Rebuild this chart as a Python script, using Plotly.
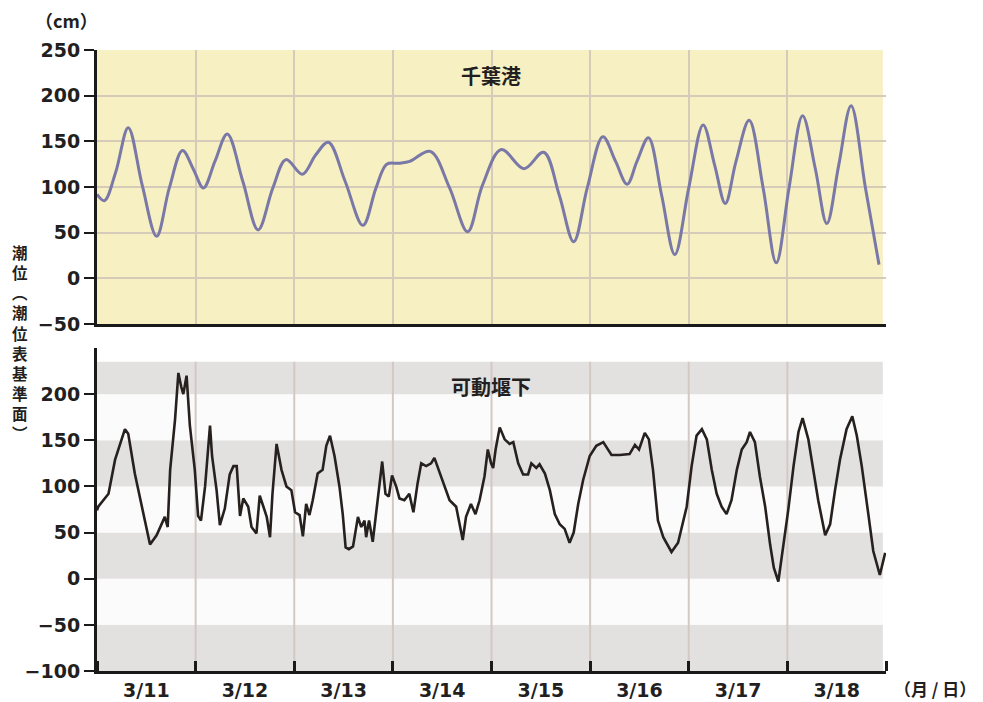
import pandas as pd
import plotly.graph_objects as go

BASE = pd.Timestamp("2011-03-11 00:00")
START_DAY = "2011-03-11"
END_DAY = "2011-03-19"

# Upper panel: 千葉港 (hours since 3/11 00:00, level cm)
CHIBA_HOURS = [0, 1.8, 4.6, 7.6, 11.0, 14.5, 17.6, 20.8, 23.5, 25.9, 28.7, 31.7, 35.5, 39.2,
               42.8, 46.0, 50.0, 53.2, 56.3, 60.4, 64.7, 67.9, 70.5, 73.5, 76.1, 81.1, 85.8,
               90.2, 93.8, 98.4, 103.9, 108.7, 112.5, 116.0, 119.3, 123.1, 126.2, 129.0,
               131.4, 134.2, 137.4, 140.6, 144.0, 147.5, 150.3, 152.9, 155.5, 158.7, 162.1,
               165.3, 168.4, 171.7, 174.8, 177.6, 180.5, 183.5, 187.0, 190.3]
CHIBA_LEVEL = [92, 85, 117, 165, 102, 46, 99, 140, 119, 99, 128, 158, 106, 53,
               99, 130, 114, 135, 149, 106, 58, 99, 125, 126, 128, 139, 99,
               51, 102, 141, 120, 138, 91, 40, 99, 155, 128, 103,
               128, 154, 91, 26, 99, 168, 124, 82, 128, 173, 99,
               17, 99, 178, 120, 60, 124, 189, 99, 15]

# Lower panel: 可動堰下
WEIR_HOURS = [0, 0.3, 2.8, 4.4, 6.8, 7.6, 9.2, 10.9, 12.9, 14.5, 15.7, 16.5, 17.2, 17.8,
              19.0, 19.8, 20.5, 21.0, 21.8, 22.6, 23.8, 24.6, 25.3, 26.3, 27.5, 28.0,
              29.1, 29.9, 31.1, 32.3, 33.2, 34.0, 34.8, 35.6, 36.8, 37.6, 38.8, 39.6,
              40.5, 41.3, 42.1, 42.7, 43.7, 44.9, 46.1, 47.3, 48.2, 49.3, 50.1, 50.9,
              51.7, 52.5, 53.7, 54.9, 55.8, 56.7, 57.8, 59.0, 59.8, 60.5, 61.3, 62.3,
              63.5, 64.3, 65.1, 65.5, 66.2, 67.1, 68.0, 68.6, 69.4, 70.2, 71.0, 71.8,
              72.8, 73.6, 74.8, 76.0, 77.0, 78.0, 78.9, 80.1, 81.3, 82.1, 83.4, 84.6,
              85.8, 87.4, 88.2, 89.0, 89.8, 91.0, 92.1, 93.1, 94.3, 95.1, 95.9, 96.4,
              97.0, 98.0, 99.2, 100.4, 101.3, 102.5, 103.7, 104.9, 105.7, 106.9, 107.7,
              109.0, 110.2, 111.4, 112.6, 113.8, 115.0, 116.0, 117.1, 118.3, 119.9,
              121.5, 123.2, 124.0, 125.2, 127.2, 129.6, 130.9, 131.9, 133.3, 134.3,
              135.3, 136.5, 137.8, 139.8, 141.4, 143.0, 143.5, 144.7, 145.9, 147.2,
              148.4, 149.6, 150.8, 152.0, 153.2, 154.4, 155.7, 156.9, 158.1, 158.9,
              160.1, 161.3, 162.6, 163.8, 164.7, 165.8, 167.0, 168.2, 169.5, 170.7,
              171.7, 173.1, 174.3, 175.5, 177.2, 178.4, 179.6, 180.8, 182.4, 183.8,
              184.9, 186.1, 187.7, 188.9, 190.5, 191.3, 191.8]
WEIR_LEVEL = [74, 78, 92, 129, 162, 157, 114, 78, 37, 47, 59, 67, 56, 118,
              173, 223, 208, 200, 220, 166, 118, 68, 63, 100, 166, 133,
              96, 58, 76, 113, 122, 122, 68, 87, 78, 56, 49, 90,
              78, 67, 45, 92, 146, 118, 100, 96, 72, 69, 46, 81,
              69, 85, 114, 118, 144, 155, 133, 100, 70, 34, 32, 35,
              67, 56, 63, 45, 63, 40, 74, 100, 127, 92, 89, 112,
              100, 87, 85, 92, 72, 103, 125, 122, 125, 131, 114, 100,
              85, 78, 59, 42, 67, 81, 70, 85, 111, 140, 125, 120,
              140, 164, 151, 146, 148, 125, 113, 113, 125, 120, 124,
              114, 96, 70, 59, 54, 39, 50, 81, 107, 133,
              144, 148, 142, 134, 134, 135, 145, 140, 158, 151,
              118, 63, 45, 29, 39, 67, 78, 122, 155, 162,
              151, 118, 92, 78, 70, 85, 118, 140, 148, 159,
              148, 111, 78, 37, 12, -3, 34, 74, 122, 159,
              174, 151, 118, 85, 47, 59, 96, 129, 162, 176,
              155, 122, 70, 30, 4, 19, 28]

TOP_TICKS = [-50, 0, 50, 100, 150, 200, 250]
BOTTOM_TICKS = [-100, -50, 0, 50, 100, 150, 200]
BAND_EDGES = [-100, -50, 0, 50, 100, 150, 200, 235]
DAY_LINES = ["2011-03-12", "2011-03-13", "2011-03-14", "2011-03-15",
             "2011-03-16", "2011-03-17", "2011-03-18"]

TITLE_TOP = "千葉港"
TITLE_BOTTOM = "可動堰下"
UNIT = "（cm）"
X_UNIT = "（月 / 日）"
Y_LABEL = ["潮", "位", "︵", "潮", "位", "表", "基", "準", "面", "︶"]

chiba_x = BASE + pd.to_timedelta(CHIBA_HOURS, unit="h")
weir_x = BASE + pd.to_timedelta(WEIR_HOURS, unit="h")

TXT = "#231f20"
FONT = "DejaVu Sans, Noto Sans CJK JP"
CJK = "Noto Sans CJK JP"

# page body has an 8px margin: size the figure to the remaining window
OFF = 8
W, H = 983 - OFF, 702 - OFF


def fx(px):
    return (px - OFF) / W


def fy(py):
    return 1 - (py - OFF) / H


XDOM = [fx(97), fx(886)]
TOP_DOM = [fy(324), fy(50)]
BOT_DOM = [fy(671), fy(348)]

fig = go.Figure()
fig.add_trace(go.Scatter(x=chiba_x, y=CHIBA_LEVEL, mode="lines", xaxis="x", yaxis="y",
                         line=dict(color="#7a78a6", width=3, shape="spline", smoothing=1),
                         showlegend=False, hoverinfo="skip"))
fig.add_trace(go.Scatter(x=weir_x, y=WEIR_LEVEL, mode="lines", xaxis="x2", yaxis="y2",
                         line=dict(color="#26211f", width=2.6),
                         showlegend=False, hoverinfo="skip"))

shapes = []
shapes.append(dict(type="rect", xref="x domain", yref="y domain", x0=0, x1=0.996, y0=0, y1=1,
                   fillcolor="#f6f0c2", line=dict(width=0), layer="below"))
for i in range(len(BAND_EDGES) - 1):
    shapes.append(dict(type="rect", xref="x2 domain", yref="y2", x0=0, x1=0.996,
                       y0=BAND_EDGES[i], y1=BAND_EDGES[i + 1],
                       fillcolor="#e3e1e0" if i % 2 == 0 else "#fbfbfb",
                       line=dict(width=0), layer="below"))
for d in DAY_LINES:
    shapes.append(dict(type="line", xref="x2", yref="y2", x0=d, x1=d,
                       y0=BAND_EDGES[0], y1=BAND_EDGES[-1],
                       line=dict(color="#d4c8c4", width=2), layer="below"))


def note(text, px, py, size):
    return dict(text=text, x=fx(px), y=fy(py), xref="paper", yref="paper",
                xanchor="center", yanchor="middle", showarrow=False,
                font=dict(family=CJK, size=size, color=TXT, weight=700))


annotations = [
    note(TITLE_TOP, 491, 76, 20),
    note(TITLE_BOTTOM, 491, 386, 20),
    note(UNIT, 66, 20, 18),
    note(X_UNIT, 935, 688, 17),
    note("<br>".join(Y_LABEL), 20, 342, 15.5),
]

tickfont = dict(family=FONT, size=19, color=TXT, weight=700)

fig.update_layout(
    width=W, height=H,
    margin=dict(l=0, r=0, t=0, b=0, autoexpand=False),
    paper_bgcolor="white", plot_bgcolor="rgba(0,0,0,0)",
    font=dict(family=FONT, color=TXT),
    shapes=shapes, annotations=annotations,
    xaxis=dict(domain=XDOM, anchor="y", type="date", range=[START_DAY, END_DAY],
               dtick=86400000, tick0=START_DAY, showgrid=True, gridcolor="#d6cab8",
               gridwidth=2, showticklabels=False, ticks="", showline=True,
               linecolor="#1a1a1a", linewidth=3, zeroline=False, automargin=False),
    yaxis=dict(domain=TOP_DOM, anchor="x", range=[-50, 250], tickmode="array",
               tickvals=TOP_TICKS, showgrid=True, gridcolor="#d6cab8", gridwidth=2,
               ticks="outside", ticklen=10, tickwidth=2, tickcolor="#1a1a1a",
               showline=True, linecolor="#1a1a1a", linewidth=3, zeroline=False,
               tickfont=tickfont, automargin=False),
    xaxis2=dict(domain=XDOM, anchor="y2", type="date", range=[START_DAY, END_DAY],
                dtick=86400000, tick0=START_DAY, tickformat="%-m/%-d",
                ticklabelmode="period", showgrid=False, ticks="inside", ticklen=10,
                tickwidth=3, tickcolor="#1a1a1a", showline=True, linecolor="#1a1a1a",
                linewidth=3, zeroline=False, tickfont=tickfont, ticklabelstandoff=0,
                automargin=False),
    yaxis2=dict(domain=BOT_DOM, anchor="x2", range=[-100, 250], tickmode="array",
                tickvals=BOTTOM_TICKS, showgrid=False, ticks="outside", ticklen=10,
                tickwidth=2, tickcolor="#1a1a1a", showline=True, linecolor="#1a1a1a",
                linewidth=3, zeroline=False, tickfont=tickfont, automargin=False),
)

fig.write_html("out.html")
